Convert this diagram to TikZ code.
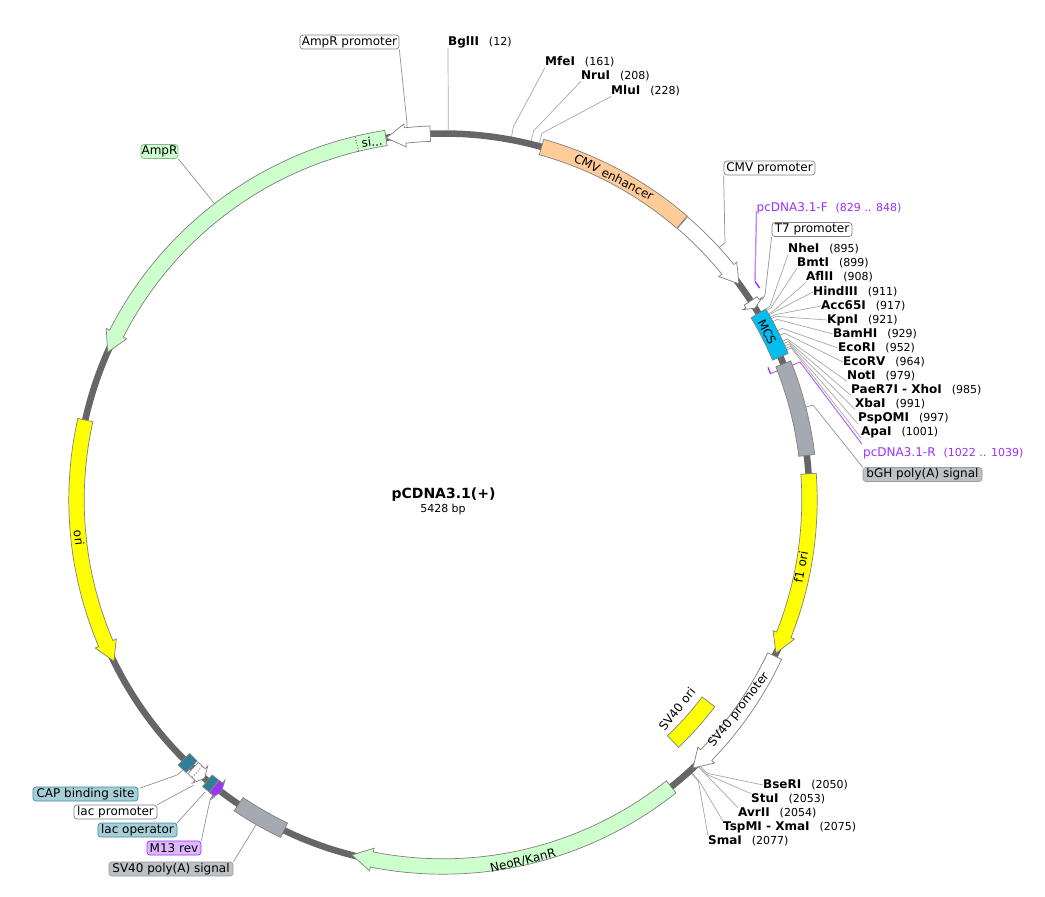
\documentclass[tikz,border=0pt]{standalone}
\usepackage{fontspec}
\setmainfont{DejaVu Sans}
\newcommand\szA{\fontsize{12}{14}\selectfont}
\newcommand\szB{\fontsize{11}{13}\selectfont}
\definecolor{ringc}{HTML}{666666}
\definecolor{edgec}{HTML}{808080}
\definecolor{linec}{HTML}{A8A8A8}
\definecolor{greenf}{HTML}{CCFFCC}
\definecolor{orangef}{HTML}{FFCC99}
\definecolor{yellowf}{HTML}{FFFF00}
\definecolor{mcsf}{HTML}{00BFF0}
\definecolor{grayf}{HTML}{A5A9B2}
\definecolor{tealf}{HTML}{2F7F9A}
\definecolor{purplef}{HTML}{9933FF}
\definecolor{primerc}{HTML}{9B30FF}
\definecolor{primerl}{HTML}{C688FF}
\definecolor{tealbox}{HTML}{A8CFD8}
\definecolor{tealedge}{HTML}{3A8CA0}
\definecolor{graybox}{HTML}{BEC0C4}
\definecolor{purplebox}{HTML}{DDB8FF}
\tikzset{
  feat/.style={draw=edgec,line width=0.7pt,line join=miter},
  sitelab/.style={anchor=west,inner sep=0pt,font=\szA},
  boxlab/.style={draw=#1,rounded corners=3pt,inner sep=0pt,minimum height=14pt,font=\szA,line width=0.7pt},
  sitecon/.style={draw=linec,line width=0.7pt},
  featcon/.style={draw=edgec!85,line width=0.7pt},
  ontext/.style={inner sep=0pt,font=\szA},
  primlab/.style={anchor=west,inner sep=0pt,font=\szA,text=primerc},
}
% clockwise-from-top polar point about the plasmid centre
\newcommand\pol[2]{({443+(#2)*sin(#1)},{-500+(#2)*cos(#1)})}
\newcommand\featbox[5][]{%
  \pgfmathsetmacro\ro{#4+#5/2}\pgfmathsetmacro\ri{#4-#5/2}%
  \pgfmathsetmacro\aa{90-(#2)}\pgfmathsetmacro\ab{90-(#3)}%
  \draw[feat,#1] \pol{#2}{\ro} arc[start angle=\aa,end angle=\ab,radius=\ro] -- \pol{#3}{\ri} arc[start angle=\ab,end angle=\aa,radius=\ri] -- cycle;}
% tail angle, neck angle, tip angle
\newcommand\featarrow[4][]{%
  \pgfmathsetmacro\ro{374.2}\pgfmathsetmacro\ri{358.8}%
  \pgfmathsetmacro\aa{90-(#2)}\pgfmathsetmacro\ab{90-(#3)}%
  \draw[feat,#1] \pol{#2}{\ro} arc[start angle=\aa,end angle=\ab,radius=\ro] -- \pol{#3}{378} -- \pol{#4}{366.5} -- \pol{#3}{355} -- \pol{#3}{\ri} arc[start angle=\ab,end angle=\aa,radius=\ri] -- cycle;}
\newcommand\site[5]{\node[sitelab] (#1) at (#2,-#3) {\textbf{#4}\hspace{10pt}{\szB(#5)}};}
\newcommand\siteline[3]{%
  \path \pol{#3*0.066323}{367.5} coordinate (r#1);
  \path \pol{#3*0.066323}{380} coordinate (k#1);
  \draw[sitecon] (#1.#2) -- (k#1) -- (r#1);}
\begin{document}
\begin{tikzpicture}[x=1pt,y=1pt]
\useasboundingbox (0,0) rectangle (1045,-897);
\fill[white] (0,0) rectangle (1045,-897);

% restriction-site labels
\site{BglII}{448}{42}{BglII}{12}
\site{MfeI}{545}{62}{MfeI}{161}
\site{NruI}{581}{76}{NruI}{208}
\site{MluI}{611}{91}{MluI}{228}
\site{NheI}{788}{249}{NheI}{895}
\site{BmtI}{797}{263}{BmtI}{899}
\site{AflII}{806}{277}{AflII}{908}
\site{HindIII}{813}{292}{HindIII}{911}
\site{Acc}{821}{306}{Acc65I}{917}
\site{KpnI}{827}{320}{KpnI}{921}
\site{BamHI}{833}{334}{BamHI}{929}
\site{EcoRI}{838}{348}{EcoRI}{952}
\site{EcoRV}{843}{362}{EcoRV}{964}
\site{NotI}{847}{376}{NotI}{979}
\site{Pae}{851}{390}{PaeR7I - XhoI}{985}
\site{XbaI}{855}{404}{XbaI}{991}
\site{Psp}{858}{418}{PspOMI}{997}
\site{ApaI}{861}{432}{ApaI}{1001}
\site{BseRI}{763}{785}{BseRI}{2050}
\site{StuI}{751}{799}{StuI}{2053}
\site{AvrII}{738}{813}{AvrII}{2054}
\site{Tsp}{723}{827}{TspMI - XmaI}{2075}
\site{SmaI}{708}{841}{SmaI}{2077}

% primer labels
\node[primlab] (pF) at (756.5,-208) {pcDNA3.1-F\hspace{8pt}{\szB(829 .. 848)}};
\node[primlab] (pR) at (863,-453) {pcDNA3.1-R\hspace{8pt}{\szB(1022 .. 1039)}};

% feature labels
\node[boxlab=edgec,fill=white,minimum width=99pt] (lAmpRp) at (349.5,-42) {AmpR promoter};
\node[boxlab=edgec,fill=white,minimum width=91pt] (lCMVp) at (769.5,-168) {CMV promoter};
\node[boxlab=edgec,fill=white,minimum width=80pt] (lT7) at (812,-229.5) {T7 promoter};
\node[boxlab=graybox!80!black,fill=graybox,minimum width=119pt] (lbGH) at (922.5,-474.5) {bGH poly(A) signal};
\node[boxlab=greenf!70!black,fill=greenf,minimum width=37pt] (lAmpR) at (159.5,-151.5) {AmpR};
\node[boxlab=tealedge,fill=tealbox,minimum width=105pt] (lCAP) at (85.5,-794) {CAP binding site};
\node[boxlab=edgec,fill=white,minimum width=83pt] (lLacP) at (115.5,-812) {lac promoter};
\node[boxlab=tealedge,fill=tealbox,minimum width=79pt] (lLacO) at (137.5,-830) {lac operator};
\node[boxlab=primerc,fill=purplebox,minimum width=54pt] (lM13) at (174,-848) {M13 rev};
\node[boxlab=graybox!80!black,fill=graybox,minimum width=124pt] (lSVpA) at (171,-869) {SV40 poly(A) signal};

% site connectors
\siteline{BglII}{south west}{12}
\siteline{MfeI}{south west}{161}
\siteline{NruI}{south west}{208}
\siteline{MluI}{south west}{228}
\siteline{NheI}{south west}{895}
\siteline{BmtI}{south west}{899}
\siteline{AflII}{south west}{908}
\siteline{HindIII}{west}{911}
\siteline{Acc}{west}{917}
\siteline{KpnI}{west}{921}
\siteline{BamHI}{west}{929}
\siteline{EcoRI}{west}{952}
\siteline{EcoRV}{west}{964}
\siteline{NotI}{south west}{979}
\siteline{Pae}{south west}{985}
\siteline{XbaI}{south west}{991}
\siteline{Psp}{south west}{997}
\siteline{ApaI}{south west}{1001}
\siteline{BseRI}{west}{2050}
\siteline{StuI}{north west}{2053}
\siteline{AvrII}{north west}{2054}
\siteline{Tsp}{north west}{2075}
\siteline{SmaI}{north west}{2077}

% feature connectors
\coordinate (cAmpRp1) at (407,-123); \coordinate (cAmpRp2) at (407,-128);
\draw[featcon] (lAmpRp.south east) -- (cAmpRp1) -- (cAmpRp2);
\coordinate (cCMV1) at (725,-243); \coordinate (cCMV2) at (718,-248);
\draw[featcon] (lCMVp.south west) -- (cCMV1) -- (cCMV2);
\coordinate (cT71) at (765,-295); \coordinate (cT72) at (762,-300);
\draw[featcon] (lT7.south west) -- (cT71) -- (cT72);
\coordinate (cbGH1) at (813,-405); \coordinate (cbGH2) at (806,-407);
\draw[featcon] (lbGH.north west) -- (cbGH1) -- (cbGH2);
\coordinate (cAmpR) at (214,-203);
\draw[featcon] (lAmpR.south east) -- (cAmpR);
\coordinate (cCAP1) at (177,-775); \coordinate (cCAP2) at (183,-770);
\draw[featcon] (lCAP.east) ++(2,6) -- (cCAP1) -- (cCAP2);
\coordinate (cLacP) at (194,-785);
\draw[featcon] (lLacP.north east) -- (cLacP);
\coordinate (cLacO) at (205,-792);
\draw[featcon] (lLacO.north east) -- (cLacO);
\coordinate (cM131) at (210,-800); \coordinate (cM132) at (215,-797);
\draw[featcon] (lM13.north east) -- (cM131) -- (cM132);
\coordinate (cSV) at (256,-825);
\draw[featcon] (lSVpA.north east) -- (cSV);

% primers
\coordinate (cF2) at (755,-281);
\draw[primerl,line width=1.4pt] (pF.south west) ++(0,3) -- (cF2);
\draw[primerc,line width=1.4pt] \pol{55}{381} arc[start angle=35,end angle=33.8,radius=381];
\coordinate (cR1) at (800,-362); \coordinate (cR0) at (770.4,-373.6);
\draw[primerc!80,line width=0.9pt] (pR.north west) ++(-1,3) -- (cR1) -- (cR0);
\draw[primerc,line width=1.2pt] \pol{67.8}{351} arc[start angle=22.2,end angle=21.1,radius=351];

% backbone
\draw[ringc,line width=6.5pt] (443,-500) circle[radius=366.5];

% features
\featbox[fill=orangef]{15.6}{40.7}{366.5}{16}
\featarrow[fill=white]{40.8}{51}{53.85}
\featarrow[fill=white]{57.1}{57.6}{58.4}
\featbox[fill=mcsf]{59.4}{67}{366.5}{17}
\featbox[fill=grayf]{68.2}{83}{366.5}{16}
\featarrow[fill=yellowf]{85.9}{111.6}{114.7}
\featarrow[fill=white]{115.2}{134.1}{137}
\featarrow[fill=greenf]{141.5}{191.2}{194.4}
\featbox[fill=yellowf]{127.25}{136.4}{333.5}{16}
\featbox[fill=grayf]{205.7}{213.9}{366.5}{16}
\featarrow[fill=purplef]{218.6}{217.9}{217.2}
\featbox[fill=tealf]{218.7}{220}{366.5}{15}
\featarrow[fill=white]{223}{221.5}{220.6}
\draw[black,line width=0.7pt,dotted] \pol{222.1}{359.5} -- \pol{222.1}{373.5};
\featbox[fill=tealf]{223.3}{225}{366.5}{16}
\featarrow[fill=yellowf]{282.6}{246.95}{243.9}
\featarrow[fill=greenf]{351.04}{297}{293.8}
\draw[black,line width=0.7pt,dotted] \pol{346.4}{358.8} -- \pol{346.4}{374.2};
\featarrow[fill=white]{358}{354.06}{351.1}

% text on features
\node[ontext,rotate=-27] (tCMV) at (614,-177) {CMV enhancer};
\node[ontext,rotate=-63] (tMCS) at (767,-332) {MCS};
\node[ontext,rotate=79] (tf1) at (801,-567) {f1 ori};
\node[ontext,rotate=52] (tSVp) at (739,-710) {SV40 promoter};
\node[ontext,rotate=52] (tSVo) at (677,-709) {SV40 ori};
\node[ontext,rotate=14] (tNeo) at (523,-861) {NeoR/KanR};
\node[ontext,rotate=-84] (tori) at (79,-538) {ori};
\node[ontext,rotate=7] (tsi) at (372,-142) {si...};

% centre
\node[inner sep=0pt,font=\fontsize{14}{16}\selectfont\bfseries] (title) at (443.5,-495) {pCDNA3.1(+)};
\node[inner sep=0pt,font=\szB] (bp) at (443,-509) {5428 bp};
\end{tikzpicture}
\end{document}
